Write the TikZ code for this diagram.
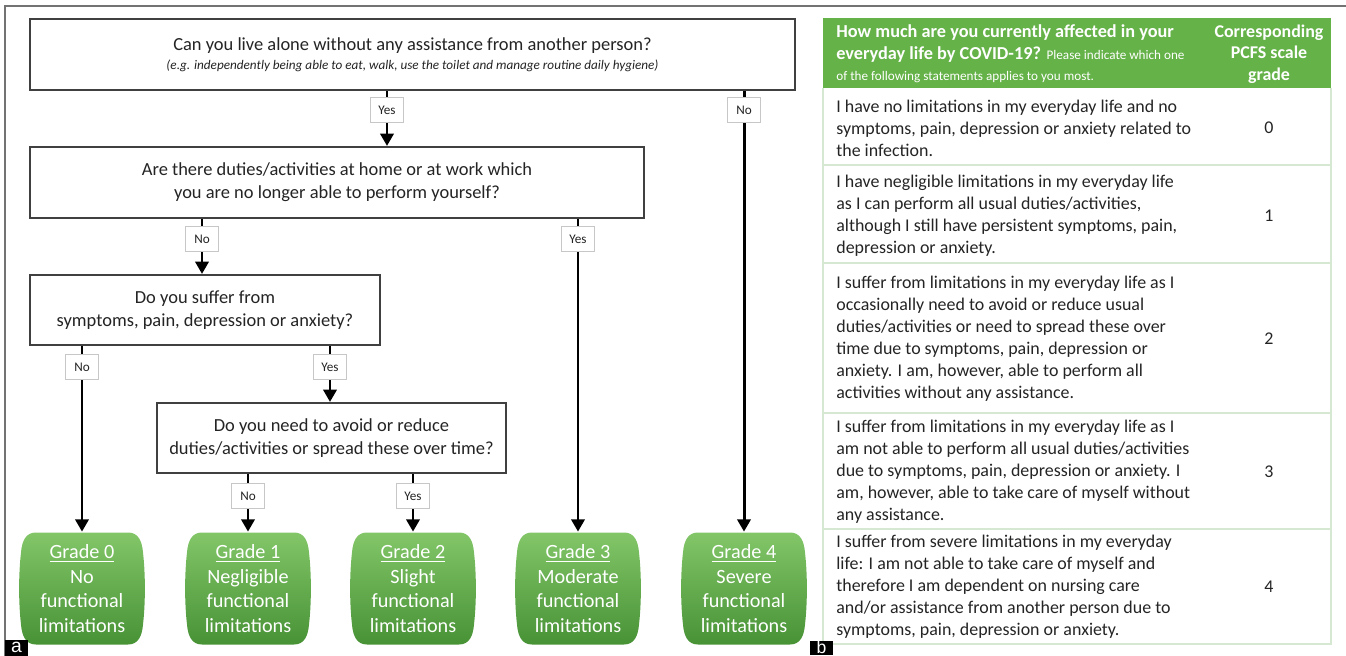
\documentclass[tikz,border=0pt]{standalone}
\usepackage{fontspec}
\setmainfont{Carlito}
\newfontfamily\tagfont{Liberation Sans}
\usepackage{tikz}
\usetikzlibrary{arrows.meta,calc}
\definecolor{headgreen}{RGB}{101,178,72}
\definecolor{gradetop}{RGB}{130,198,104}
\definecolor{gradebottom}{RGB}{72,146,54}
\definecolor{rulegreen}{RGB}{214,231,210}
\definecolor{textgray}{RGB}{36,36,36}

\begin{document}
\begin{tikzpicture}[x = 0.02cm, y = -0.02cm]
\tikzset{
	question node/.style = {draw = black!75, line width = 1.2pt, fill = white, align = center, text = textgray, font = \fontsize{10.5}{12.9}\selectfont},
	answer node/.style = {draw = black!22, line width = 0.6pt, fill = white, text = textgray, font = \fontsize{7.5}{8}\selectfont, inner sep = 0pt, minimum width = 0.66cm, minimum height = 0.5cm},
	grade node/.style = {align = center, text = white, font = \fontsize{11.5}{13.9}\selectfont, inner sep = 0pt, minimum width = 2.48cm, minimum height = 2.26cm},
	grade fill/.style = {top color = gradetop, bottom color = gradebottom},
	flow line/.style = {line width = 1.7pt},
	flow arrow/.style = {line width = 1.7pt, -{Triangle[length = 7pt, width = 7.5pt]}},
	row text/.style = {anchor = west, align = left, text = textgray, inner sep = 0pt, font = \fontsize{10.2}{12.5}\selectfont},
	row grade/.style = {text = textgray, inner sep = 0pt, font = \fontsize{10.2}{12.5}\selectfont},
	tag node/.style = {fill = black, text = white, inner sep = 0pt, minimum width = 0.46cm, font = \tagfont\fontsize{10}{10}\selectfont},
}
\useasboundingbox (0,0) rectangle (1346,656);
\draw[black!55, line width = 0.6pt] (5,656) -- (5,6) -- (1346,6);

% questions
\node(q1)[question node, minimum width = 15.3cm, minimum height = 1.42cm] at (412.5,54.5)
	{Can you live alone without any assistance from another person?\\[-2pt]
	{\fontsize{7.5}{9}\selectfont\itshape (e.g. independently being able to eat, walk, use the toilet and manage routine daily hygiene)}};
\node(q2)[question node, minimum width = 12.28cm, minimum height = 1.42cm] at (337,182.5)
	{Are there duties/activities at home or at work which\\you are no longer able to perform yourself?};
\node(q3)[question node, minimum width = 7cm, minimum height = 1.4cm] at (205,310)
	{Do you suffer from\\symptoms, pain, depression or anxiety?};
\node(q4)[question node, minimum width = 6.98cm, minimum height = 1.4cm] at (331.5,438)
	{Do you need to avoid or reduce\\duties/activities or spread these over time?};

% grades
\foreach \gx/\gn/\gtxt in {82/0/No, 248/1/Negligible, 413/2/Slight, 578/3/Moderate, 744/4/Severe}{
	\shade[grade fill, shift = {(\gx,588.5)}] (-46,-56) -- (46,-56)
		.. controls (56,-56) and (60,-48) .. (61,-36)
		.. controls (63.5,-14) and (63.5,14) .. (61,36)
		.. controls (60,48) and (56,56) .. (46,56) -- (-46,56)
		.. controls (-56,56) and (-60,48) .. (-61,36)
		.. controls (-63.5,14) and (-63.5,-14) .. (-61,-36)
		.. controls (-60,-48) and (-56,-56) .. cycle;
	\node(g\gn)[grade node] at (\gx,588.5) {\underline{Grade \gn}\\\gtxt\\functional\\limitations};
}

% answers
\node(a1)[answer node] at (387,110) {Yes};
\node(a2)[answer node] at (744,110) {No};
\node(a3)[answer node] at (202,239) {No};
\node(a4)[answer node] at (578,239) {Yes};
\node(a5)[answer node] at (82,367) {No};
\node(a6)[answer node] at (330,367) {Yes};
\node(a7)[answer node] at (248,496) {No};
\node(a8)[answer node] at (413,496) {Yes};

\draw[flow line] (q1.south -| a1) -- (a1.north);
\draw[flow arrow] (a1.south) -- (a1 |- q2.north);
\draw[flow line] (q1.south -| a2) -- (a2.north);
\draw[flow arrow] (a2.south) -- (g4.north);
\draw[flow line] (q2.south -| a3) -- (a3.north);
\draw[flow arrow] (a3.south) -- (a3 |- q3.north);
\draw[flow line] (q2.south -| a4) -- (a4.north);
\draw[flow arrow] (a4.south) -- (g3.north);
\draw[flow line] (q3.south -| a5) -- (a5.north);
\draw[flow arrow] (a5.south) -- (g0.north);
\draw[flow line] (q3.south -| a6) -- (a6.north);
\draw[flow arrow] (a6.south) -- (a6 |- q4.north);
\draw[flow line] (q4.south -| a7) -- (a7.north);
\draw[flow arrow] (a7.south) -- (g1.north);
\draw[flow line] (q4.south -| a8) -- (a8.north);
\draw[flow arrow] (a8.south) -- (g2.north);

% table
\fill[headgreen] (823,18) rectangle (1331,88);
\draw[rulegreen, line width = 0.9pt] (823,88) -- (823,644) -- (1331,644) -- (1331,88);
\foreach \ry in {165,263,413,529}
	\draw[rulegreen, line width = 0.9pt] (823,\ry) -- (1331,\ry);
\node(h1)[row text, text = white, font = \fontsize{10.4}{12.2}\selectfont\bfseries] at (836,54)
	{How much are you currently affected in your\\
	everyday life by COVID-19? {\fontsize{7.5}{12.2}\selectfont\mdseries Please indicate which one}\\
	{\fontsize{7.5}{12.2}\selectfont\mdseries of the following statements applies to you most.}};
\node(h2)[row grade, align = center, text = white, font = \fontsize{10.2}{12.2}\selectfont\bfseries] at (1269,54)
	{Corresponding\\PCFS scale\\grade};

\node(r0)[row text] at (836,128)
	{I have no limitations in my everyday life and no\\
	symptoms, pain, depression or anxiety related to\\
	the infection.};
\node(r1)[row text] at (836,216)
	{I have negligible limitations in my everyday life\\
	as I can perform all usual duties/activities,\\
	although I still have persistent symptoms, pain,\\
	depression or anxiety.};
\node(r2)[row text] at (836,339)
	{I suffer from limitations in my everyday life as I\\
	occasionally need to avoid or reduce usual\\
	duties/activities or need to spread these over\\
	time due to symptoms, pain, depression or\\
	anxiety. I am, however, able to perform all\\
	activities without any assistance.};
\node(r3)[row text] at (836,472)
	{I suffer from limitations in my everyday life as I\\
	am not able to perform all usual duties/activities\\
	due to symptoms, pain, depression or anxiety. I\\
	am, however, able to take care of myself without\\
	any assistance.};
\node(r4)[row text] at (836,587)
	{I suffer from severe limitations in my everyday\\
	life: I am not able to take care of myself and\\
	therefore I am dependent on nursing care\\
	and/or assistance from another person due to\\
	symptoms, pain, depression or anxiety.};
\foreach \n/\ry in {0/128,1/216,2/339,3/472,4/587}
	\node(n\n)[row grade] at (1269,\ry) {\n};

% panel tags
\node(ta)[tag node, minimum height = 0.32cm, font = \tagfont\fontsize{11}{11}\selectfont] at (16.5,647.5) {a};
\node(tb)[tag node, minimum height = 0.28cm] at (821.5,647.5) {b};
\end{tikzpicture}
\end{document}
